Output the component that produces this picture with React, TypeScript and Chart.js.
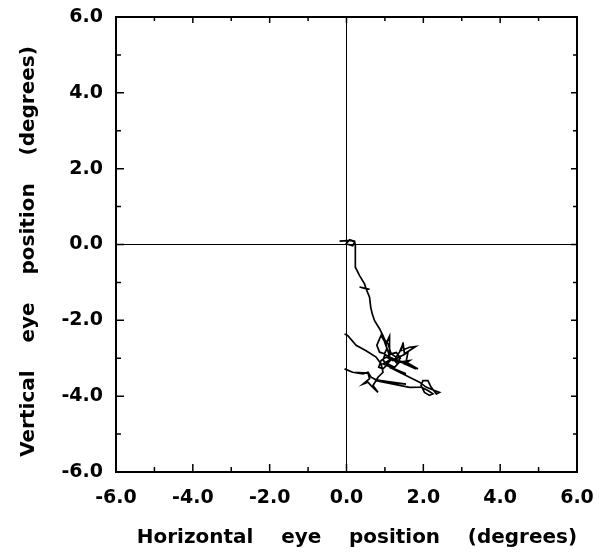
import React, { useEffect, useRef } from 'react';
import { Chart, registerables } from 'chart.js';

Chart.register(...registerables);

// Eye trace (degrees)
const traceX = [
  -0.18, 0.12, 0.21, 0.16, -0.01, 0.08, 0.21, 0.23,
  0.23, 0.23, 0.34, 0.47, 0.51, 0.34, 0.6, 0.51, 0.6, 0.63, 0.67, 0.73, 0.86, 0.95,
  1.02, 1.05, 0.99, 0.86, 0.79, 0.86, 0.9, 1.03, 1.12, 1.12, 0.95, 1.08, 1.16, 1.29, 1.38, 1.47,
  1.42, 1.64, 1.8, 1.51, 1.47, 1.51, 1.25, 1.6, 1.86, 1.55,
  1.6, 1.38, 1.21, 1.03, 0.9, 0.84, 0.95, 1.08, 1.25, 1.38, 1.64, 1.51, 1.81, 1.55, 1.29,
  1.0, 0.95, 1.05, 1.15, 1.1, 1.3, 1.4, 1.3, 1.2,
  0.95, 1.55, 1.12, 1.38, 1.64, 1.9, 2.07, 2.29, 2.42, 2.34, 2.2, 2.12, 1.99, 1.94, 2.03, 2.16, 2.25,
  2.12, 1.94, 1.64, 0.77, 1.55, 1.03, 0.77, 0.64, 0.56, 0.43, 0.16, -0.05, 0.16, 0.56, 0.6, 0.43, 0.56,
  0.64, 0.82, 0.69, 0.82, 0.95, 0.9, 0.77, 0.51, 0.25, 0.03, -0.05,
];
const traceY = [
  0.09, 0.11, 0.06, -0.03, 0.02, 0.12, 0.09, -0.03,
  -0.07, -0.6, -0.82, -1.04, -1.17, -1.12, -1.18, -1.17, -1.39, -1.65, -1.83, -2.01, -2.22, -2.4,
  -2.58, -2.75, -2.88, -2.84, -2.66, -2.49, -2.4, -2.62, -2.42, -2.93, -2.45, -2.62, -2.88, -2.97, -2.84, -2.62,
  -2.8, -2.71, -2.69, -2.88, -2.58, -2.9, -3.02, -3.15, -3.28, -3.1,
  -2.84, -2.97, -3.06, -2.97, -3.06, -3.24, -3.28, -3.15, -3.24, -3.1, -3.06, -3.15, -3.28, -3.15, -3.06,
  -2.9, -3.05, -3.15, -3.05, -2.9, -2.85, -3.0, -3.12, -3.0,
  -3.15, -3.41, -3.24, -3.37, -3.5, -3.63, -3.76, -3.85, -3.9, -3.94, -3.76, -3.59, -3.59, -3.72, -3.9, -3.98, -3.94,
  -3.85, -3.76, -3.77, -3.59, -3.68, -3.61, -3.57, -3.5, -3.37, -3.41, -3.37, -3.28, -3.37, -3.39, -3.54, -3.68, -3.63,
  -3.72, -3.9, -3.72, -3.5, -3.37, -3.15, -2.97, -2.8, -2.66, -2.4, -2.36,
];

const axisMin = -6;
const axisMax = 6;
const majorStep = 2;
const minorTicks = [-5, -4, -3, -2, -1, 0, 1, 2, 3, 4, 5];

const xTitle = '   Horizontal    eye    position    (degrees)';
const yTitle = 'Vertical    eye    position    (degrees)  ';

const FONT = "'DejaVu Sans', Arial, Helvetica, sans-serif";

const framePlugin = {
  id: 'frame',
  afterDatasetsDraw(chart: any) {
    const { ctx, chartArea: a, scales } = chart;
    const xs = scales.x;
    const ys = scales.y;
    ctx.save();
    ctx.strokeStyle = '#000';
    ctx.lineWidth = 2;
    ctx.strokeRect(a.left, a.top, a.right - a.left, a.bottom - a.top);
    ctx.lineWidth = 1.5;
    ctx.beginPath();
    for (const v of minorTicks) {
      const major = v % 2 === 0;
      const Lb = major ? 8 : 5;
      const Lt = major ? 6 : 4;
      const px = xs.getPixelForValue(v);
      ctx.moveTo(px, a.bottom);
      ctx.lineTo(px, a.bottom - Lb);
      ctx.moveTo(px, a.top);
      ctx.lineTo(px, a.top + Lt);
      const py = ys.getPixelForValue(v);
      ctx.moveTo(a.left, py);
      ctx.lineTo(a.left + Lb, py);
      ctx.moveTo(a.right, py);
      ctx.lineTo(a.right - Lt, py);
    }
    ctx.stroke();
    ctx.restore();
  },
};

export default function App() {
  const ref = useRef<HTMLCanvasElement | null>(null);

  useEffect(() => {
    document.body.style.margin = '0';
    const canvas = ref.current;
    if (!canvas) return;
    const points = traceX.map((x, i) => ({ x, y: traceY[i] }));
    const chart = new Chart(canvas, {
      type: 'scatter',
      data: {
        datasets: [
          {
            data: points,
            showLine: true,
            borderColor: '#000',
            borderWidth: 1.7,
            pointRadius: 0,
            tension: 0,
            fill: false,
          },
        ],
      },
      options: {
        animation: false,
        responsive: false,
        maintainAspectRatio: false,
        layout: { padding: { top: 17, right: 29, left: 0, bottom: 0 } },
        plugins: { legend: { display: false }, tooltip: { enabled: false } },
        scales: {
          x: {
            type: 'linear',
            min: axisMin,
            max: axisMax,
            afterFit: (s: any) => {
              s.height = 87;
              s.paddingLeft = 0;
              s.paddingRight = 0;
            },
            afterBuildTicks: (s: any) => {
              s.ticks = [];
              for (let v = axisMin; v <= axisMax; v += majorStep) s.ticks.push({ value: v });
            },
            border: { display: false },
            grid: {
              drawTicks: false,
              color: (c: any) => (c.tick && c.tick.value === 0 ? '#000' : 'rgba(0,0,0,0)'),
              lineWidth: 1,
            },
            ticks: {
              color: '#000',
              padding: 15,
              font: { family: FONT, size: 19, weight: 'bold' },
              callback: (v: any) => Number(v).toFixed(1),
              maxRotation: 0,
            },
            title: {
              display: true,
              text: xTitle,
              color: '#000',
              font: { family: FONT, size: 20, weight: 'bold' },
              padding: { top: 0, bottom: 9 },
            },
          },
          y: {
            type: 'linear',
            min: axisMin,
            max: axisMax,
            afterFit: (s: any) => {
              s.width = 116;
              s.paddingTop = 0;
              s.paddingBottom = 0;
            },
            afterBuildTicks: (s: any) => {
              s.ticks = [];
              for (let v = axisMin; v <= axisMax; v += majorStep) s.ticks.push({ value: v });
            },
            border: { display: false },
            grid: {
              drawTicks: false,
              color: (c: any) => (c.tick && c.tick.value === 0 ? '#000' : 'rgba(0,0,0,0)'),
              lineWidth: 1,
            },
            ticks: {
              color: '#000',
              padding: 13,
              font: { family: FONT, size: 19, weight: 'bold' },
              callback: (v: any) => Number(v).toFixed(1),
            },
            title: {
              display: true,
              text: yTitle,
              color: '#000',
              font: { family: FONT, size: 20, weight: 'bold' },
              padding: { top: 17, bottom: 0 },
            },
          },
        },
      },
      plugins: [framePlugin],
    });
    return () => chart.destroy();
  }, []);

  return (
    <div style={{ width: 606, height: 559, background: '#fff' }}>
      <canvas ref={ref} width={606} height={559} style={{ display: 'block' }} />
    </div>
  );
}
